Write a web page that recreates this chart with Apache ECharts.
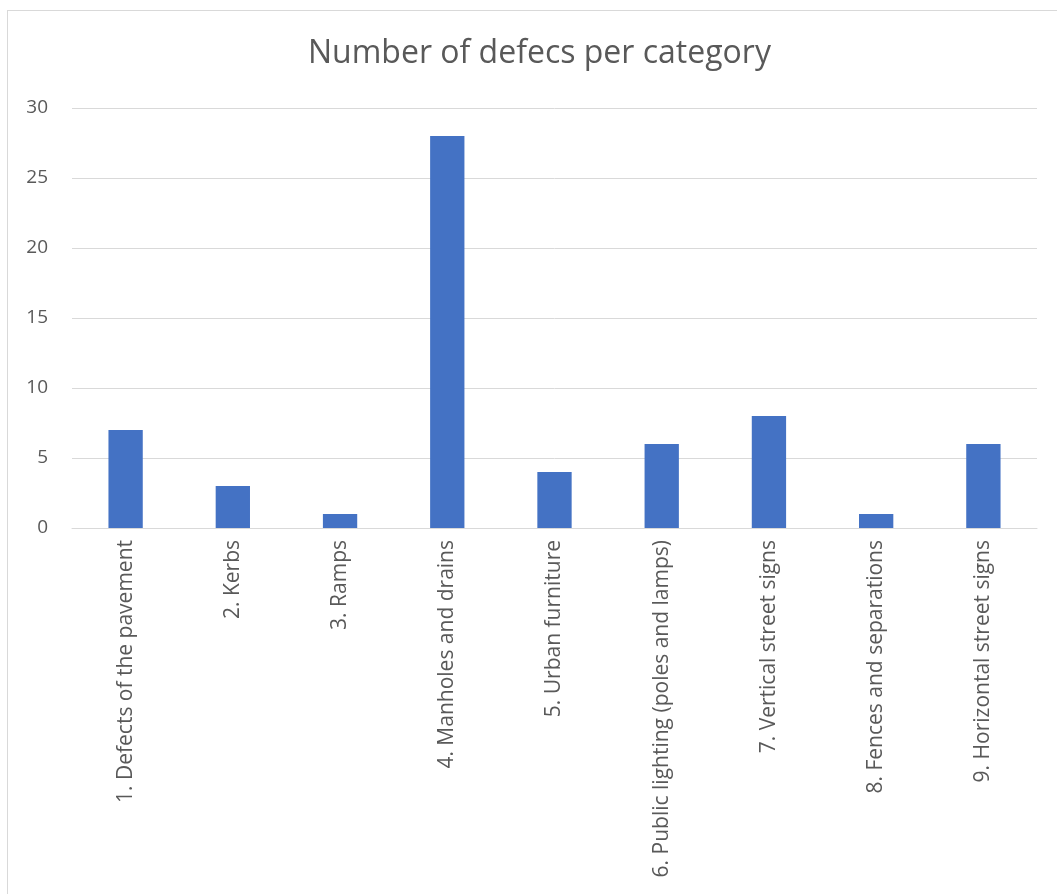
<!DOCTYPE html>
<html>
<head>
<meta charset="utf-8">
<script src="https://cdn.jsdelivr.net/npm/echarts@6/dist/echarts.min.js"></script>
<style>
  html, body { margin: 0; padding: 0; background: #fff; }
  #chart { width: 1057px; height: 894px; }
  .frame {
    position: absolute; left: 7px; top: 10px; width: 1060px; height: 900px;
    border: 1px solid #d9d9d9; box-sizing: border-box; pointer-events: none;
  }
</style>
</head>
<body>
<div id="chart"></div>
<div class="frame"></div>
<script>
// chart data
const categories = [
  "1. Defects of the pavement",
  "2. Kerbs",
  "3. Ramps",
  "4. Manholes and drains",
  "5. Urban furniture",
  "6. Public lighting (poles and lamps)",
  "7. Vertical street signs",
  "8. Fences and separations",
  "9. Horizontal street signs"
];
const defects = [7, 3, 1, 28, 4, 6, 8, 1, 6];
const titleText = "Number of defecs per category";

const myChart = echarts.init(document.getElementById("chart"));
myChart.setOption({
  animation: false,
  textStyle: { fontFamily: "'Open Sans', sans-serif" },
  title: {
    text: titleText,
    left: 303,
    top: 33,
    textStyle: { fontSize: 32, fontWeight: "normal", color: "#595959" }
  },
  grid: { left: 72, right: 20, top: 108, bottom: 366, containLabel: false },
  xAxis: {
    type: "category",
    data: categories,
    axisLine: { lineStyle: { color: "#d9d9d9", width: 1 } },
    axisTick: { show: false },
    axisLabel: {
      rotate: 90,
      interval: 0,
      margin: 12,
      fontSize: 21,
      color: "#595959"
    }
  },
  yAxis: {
    type: "value",
    min: 0,
    max: 30,
    interval: 5,
    axisLine: { show: false },
    axisTick: { show: false },
    axisLabel: { fontSize: 19, color: "#595959", margin: 24 },
    splitLine: { lineStyle: { color: "#d9d9d9", width: 1 } }
  },
  series: [
    {
      type: "bar",
      data: defects,
      barWidth: "32%",
      itemStyle: { color: "#4472c4" }
    }
  ]
});
</script>
</body>
</html>
